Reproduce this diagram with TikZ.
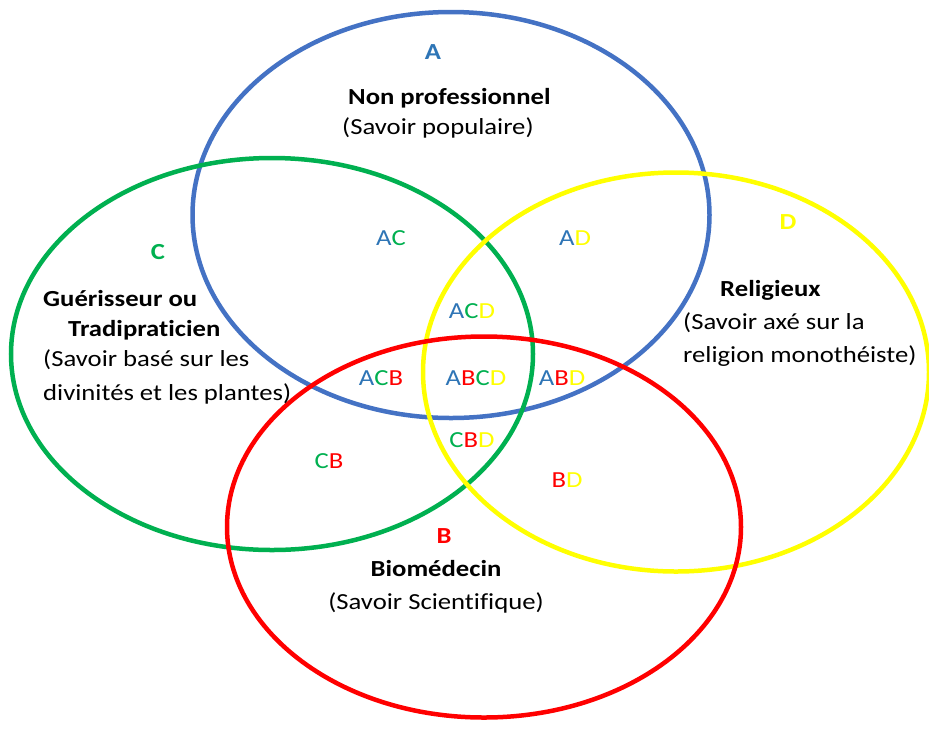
\documentclass[tikz,border=0pt]{standalone}
\usepackage{fontspec}
\setmainfont[FakeStretch=1.16, Ligatures=NoCommon]{Carlito}
\usetikzlibrary{shapes.geometric}
\definecolor{cblue}{HTML}{4472C4}
\definecolor{ctblue}{HTML}{2E75B6}
\definecolor{cgreen}{HTML}{00B050}
\definecolor{cyellow}{HTML}{FFFF00}
\definecolor{cred}{HTML}{FF0000}
\newcommand{\la}{\textcolor{ctblue}{A}}
\newcommand{\lb}{\textcolor{cred}{B}}
\newcommand{\lc}{\textcolor{cgreen}{C}}
\newcommand{\ld}{\textcolor{cyellow}{D}}
\tikzset{
  every picture/.style={x=1pt, y=-1pt, font=\fontsize{23}{30}\selectfont},
  zone/.style={draw=#1, ellipse, line width=4.5pt, inner sep=0pt},
  letter/.style={font=\fontsize{23}{30}\selectfont\bfseries},
  txt/.style={align=left, inner sep=0pt, anchor=west},
}

\begin{document}
\begin{tikzpicture}
  \useasboundingbox[fill=white] (0,0) rectangle (929,729);
  \node[zone=cblue, minimum width=517pt, minimum height=406pt] (setA) at (451,215) {};
  \node[zone=cgreen, minimum width=522pt, minimum height=392pt] (setC) at (272,354) {};
  \node[zone=cyellow, minimum width=506pt, minimum height=399pt] (setD) at (676,372) {};
  \node[zone=cred, minimum width=514pt, minimum height=381pt] (setB) at (484,527) {};

  \node[letter, text=ctblue] (la) at (433,52) {A};
  \node[txt] (ta) at (342,113) {\hspace*{6pt}\textbf{Non professionnel}\\(Savoir populaire)};
  \node[letter, text=cgreen] (lc) at (158,252) {C};
  \node[txt] (tc) at (43,347) {\textbf{Guérisseur ou}\\\hspace*{25pt}\textbf{Tradipraticien}\\(Savoir basé sur les\\[4pt]divinités et les plantes)};
  \node[letter, text=cyellow] (ld) at (788,222) {D};
  \node[txt] (td) at (683,323) {\hspace*{37pt}\textbf{Religieux}\\[3pt](Savoir axé sur la\\[3pt]religion monothéiste)};
  \node[letter, text=cred] (lb) at (444,536) {B};
  \node[align=center, inner sep=0pt] (tb) at (436,587) {\textbf{Biomédecin}\\[3pt](Savoir Scientifique)};

  \node (ac) at (391,238) {\la\lc};
  \node (ad) at (575,238) {\la\ld};
  \node (acd) at (472,311) {\la\lc\ld};
  \node (acb) at (381,378) {\la\lc\lb};
  \node (abcd) at (476,378) {\la\lb\lc\ld};
  \node (abd) at (562,378) {\la\lb\ld};
  \node (cbd) at (472,440) {\lc\lb\ld};
  \node (cb) at (329,461) {\lc\lb};
  \node (bd) at (567,480) {\lb\ld};
\end{tikzpicture}
\end{document}
